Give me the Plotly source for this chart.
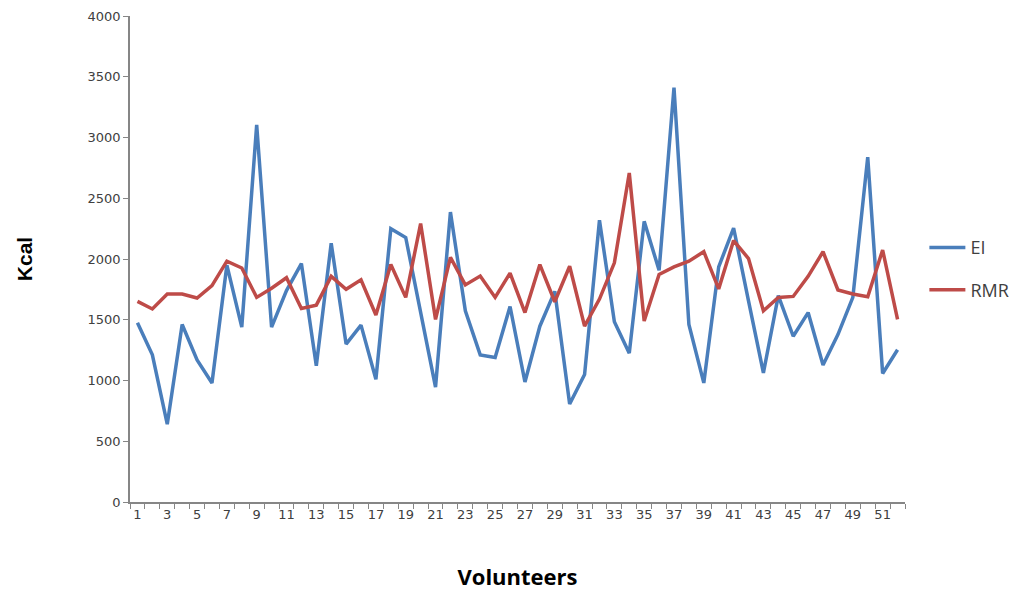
import plotly.graph_objects as go

volunteers = list(range(1, 53))
ei = [1475, 1211, 640, 1461, 1169, 980, 1949, 1439, 3104, 1439,
      1740, 1962, 1122, 2129, 1300, 1456, 1010, 2249, 2177, 1558,
      946, 2386, 1573, 1211, 1189, 1609, 988, 1447, 1734, 807,
      1049, 2319, 1484, 1225, 2310, 1907, 3410, 1461, 980, 1935,
      2255, 1656, 1063, 1698, 1364, 1559, 1127, 1378, 1684, 2839,
      1058, 1253]
rmr = [1651, 1589, 1712, 1712, 1679, 1781, 1982, 1926, 1684, 1759,
       1846, 1592, 1620, 1857, 1751, 1829, 1539, 1954, 1684, 2291,
       1503, 2013, 1787, 1860, 1684, 1884, 1559, 1954, 1648, 1940,
       1447, 1670, 1968, 2708, 1489, 1873, 1935, 1982, 2060, 1754,
       2152, 2004, 1573, 1684, 1692, 1857, 2060, 1745, 1712, 1690,
       2074, 1503]
x_tick_vals = list(range(1, 53, 2))
y_tick_vals = list(range(0, 4001, 500))

fig = go.Figure()
fig.add_trace(go.Scatter(x=volunteers, y=ei, mode="lines", name="EI", legendgroup="a",
                         line=dict(color="#4A7EBB", width=3.5)))
fig.add_trace(go.Scatter(x=volunteers, y=rmr, mode="lines", name="RMR", legendgroup="b",
                         line=dict(color="#BE4B48", width=3.5)))

tick_font = dict(family="DejaVu Sans", size=13, color="#404040")
fig.update_layout(
    width=1027, height=591,
    margin=dict(l=122, r=130, t=8, b=97),
    paper_bgcolor="white", plot_bgcolor="white",
    showlegend=True,
    legend=dict(x=1.025, y=0.48, xanchor="left", yanchor="middle",
                font=dict(family="Open Sans", size=18, color="#404040"),
                itemwidth=36, tracegroupgap=16, bgcolor="rgba(0,0,0,0)"),
    xaxis=dict(range=[0.5, 52.5], tickmode="array", tickvals=x_tick_vals,
               ticktext=[str(v) for v in x_tick_vals], ticks="", tickfont=tick_font,
               showline=True, linecolor="#868686", linewidth=1.5, showgrid=False,
               zeroline=False, automargin=False,
               minor=dict(tickmode="linear", tick0=0.5, dtick=1, ticks="outside",
                          ticklen=5, tickcolor="#868686", showgrid=False),
               title=dict(text="<b>Volunteers</b>", standoff=48,
                          font=dict(family="Open Sans", size=22, color="#000000"))),
    yaxis=dict(range=[0, 4000], tickmode="array", tickvals=y_tick_vals,
               ticks="outside", ticklen=5, tickcolor="#868686", tickfont=tick_font,
               showline=True, linecolor="#868686", linewidth=1.5, showgrid=False,
               zeroline=False, automargin=False,
               title=dict(text="<b>Kcal</b>", standoff=49,
                          font=dict(family="Liberation Sans", size=21, color="#000000"))),
)

fig.write_html("out.html")
